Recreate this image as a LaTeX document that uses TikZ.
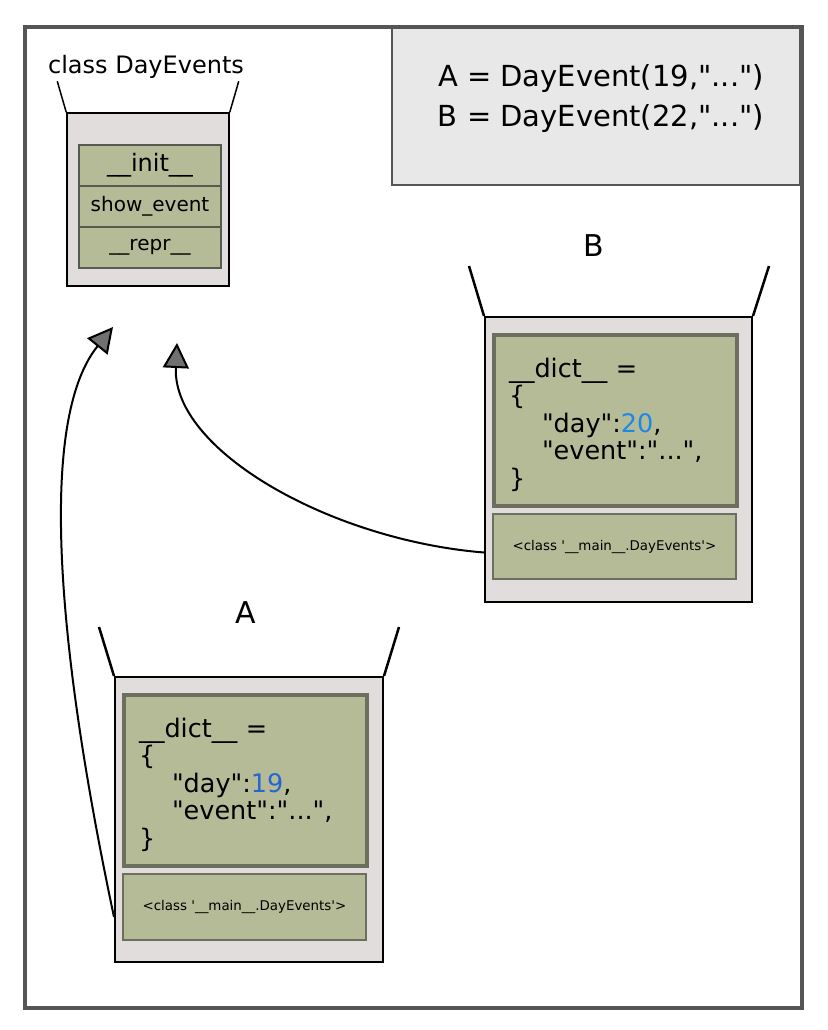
\documentclass[tikz,border=0pt]{standalone}
\usepackage{fontspec}
\setmainfont{DejaVu Sans}
\usetikzlibrary{arrows.meta,calc}
\definecolor{boxgray}{HTML}{E0DDDC}
\definecolor{methgreen}{HTML}{B4BB96}
\definecolor{methborder}{HTML}{58594F}
\definecolor{dictborder}{HTML}{6C6E5E}
\definecolor{framegray}{HTML}{555555}
\definecolor{notegray}{HTML}{E8E8E8}
\definecolor{tipgray}{HTML}{707070}
\definecolor{numblue}{HTML}{1E88E5}
\definecolor{numblueA}{HTML}{2566D2}
\newcommand{\dq}{\textquotedbl}

\begin{document}
\begin{tikzpicture}[x=1pt,y=-1pt,
    objbox/.style={draw=black,line width=2pt,fill=boxgray,inner sep=0pt},
    method/.style={draw=methborder,line width=1.5pt,fill=methgreen,minimum width=142pt,minimum height=41pt,inner sep=0pt},
    dictbox/.style={draw=dictborder,line width=3.5pt,fill=methgreen,minimum width=243pt,minimum height=171pt,
        text width=213pt,align=left,inner sep=0pt,font=\fontsize{25.5}{27.5}\selectfont},
    refbox/.style={draw=dictborder,line width=2.5pt,fill=methgreen,minimum width=243pt,minimum height=65pt,
        inner sep=0pt,font=\fontsize{13.4}{16}\selectfont},
    side/.style={line width=2.5pt},
    objlabel/.style={font=\fontsize{30}{34}\selectfont},
    inherit/.style={line width=2pt,-{Triangle[length=25pt,width=26pt,fill=tipgray]}}]
    \useasboundingbox (0,0) rectangle (827,1030);
    \draw[framegray,line width=4pt] (25,27) rectangle (802,1008);

    % note with the two calls
    \node[draw=framegray,line width=2pt,fill=notegray,minimum width=408pt,minimum height=157pt] (note) at (596,106.5) {};
    \node[align=center,font=\fontsize{29}{40}\selectfont] (calls) at (601,99) {A = DayEvent(19,\dq...\dq)\\B = DayEvent(22,\dq...\dq)};

    % the class
    \node[font=\fontsize{24}{28}\selectfont] (clslabel) at (146,67) {class DayEvents};
    \node[objbox,line width=1.5pt,minimum width=162pt,minimum height=173pt] (cls) at (148,199.5) {};
    \node[method,font=\fontsize{24}{28}\selectfont] (init) at (150,165.5) {\_\_init\_\_};
    \node[method,font=\fontsize{20}{24}\selectfont] (show) at (150,206.5) {show\_event};
    \node[method,font=\fontsize{20}{24}\selectfont] (repr) at (150,247.5) {\_\_repr\_\_};
    \draw[line width=1.5pt] (cls.north west) -- ++(-9,-31);
    \draw[line width=1.5pt] (cls.north east) -- ++(9,-31);

    % object B
    \node[objlabel] (blabel) at (594,246) {B};
    \node[objbox,minimum width=267pt,minimum height=285pt] (bobj) at (618.5,459.5) {};
    \node[dictbox] (bdict) at (615.5,420.5) {\rule{0pt}{28pt}\_\_dict\_\_ =\\\{\\\hspace*{33pt}\dq day\dq:\textcolor{numblue}{20},\\\hspace*{33pt}\dq event\dq:\dq...\dq,\\\}};
    \node[refbox] (bref) at (614.5,546.5) {<class \textquotesingle\_\_main\_\_.DayEvents\textquotesingle>};
    \draw[side] (bobj.north west) -- ++(-15,-50);
    \draw[side] (bobj.north east) -- ++(16,-50);

    % object A
    \node[objlabel] (alabel) at (246,613) {A};
    \node[objbox,minimum width=268pt,minimum height=285pt] (aobj) at (249,819.5) {};
    \node[dictbox] (adict) at (245.5,780.5) {\rule{0pt}{28pt}\_\_dict\_\_ =\\\{\\\hspace*{33pt}\dq day\dq:\textcolor{numblueA}{19},\\\hspace*{33pt}\dq event\dq:\dq...\dq,\\\}};
    \node[refbox,minimum height=66pt] (aref) at (244.5,907) {<class \textquotesingle\_\_main\_\_.DayEvents\textquotesingle>};
    \draw[side] (aobj.north west) -- ++(-15,-49);
    \draw[side] (aobj.north east) -- ++(15,-49);

    % instance of
    \coordinate (btip) at (177,343);
    \coordinate (atip) at (113,327);
    \draw[inherit] ($(bobj.west |- bref)+(0,6)$) .. controls (330,540) and (172,450) .. (btip);
    \draw[inherit] ($(aobj.west |- aref)+(0,10)$) .. controls (68,700) and (30,430) .. (atip);
\end{tikzpicture}
\end{document}
